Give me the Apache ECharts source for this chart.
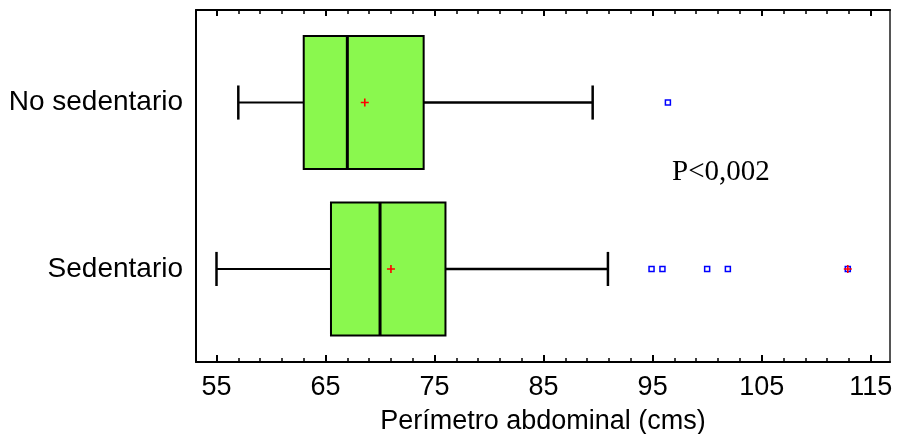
<!DOCTYPE html>
<html>
<head>
<meta charset="utf-8">
<script src="https://cdn.jsdelivr.net/npm/echarts@6/dist/echarts.min.js"></script>
<style>
  html, body { margin: 0; padding: 0; background: #fff; }
  #chart { width: 898px; height: 434px; }
</style>
</head>
<body>
<div id="chart"></div>
<script>
// grupos y estadisticos
const categories = ['No sedentario', 'Sedentario'];
const whiskerLow = [57, 55];
const q1 = [63, 65.5];
const median = [67, 70];
const q3 = [74, 76];
const whiskerHigh = [89.5, 90.9];
const means = [68.6, 71];
// [valor, grupo]
const outliers = [[96.4, 0], [94.9, 1], [95.9, 1], [100, 1], [101.9, 1], [112.9, 1]];
const farOutliers = [[112.9, 1]];
const majorTicks = [55, 65, 75, 85, 95, 105, 115];
const minorTicks = [];
for (let t = 57; t < 115; t += 2) { if ((t - 55) % 10 !== 0) minorTicks.push(t); }

const XMIN = 53.12, XMAX = 116.77;
const YMIN = -0.556, YMAX = 1.559;

const boxData = categories.map(function (c, i) {
  return [i, whiskerLow[i], q1[i], median[i], q3[i], whiskerHigh[i]];
});
const meanData = means.map(function (m, i) { return [m, i]; });

const plus = 'path://M3.2,0H4.8V3.2H8V4.8H4.8V8H3.2V4.8H0V3.2H3.2Z';

function renderBox(params, api) {
  const y = api.value(0);
  const pMin = api.coord([api.value(1), y]);
  const pQ1 = api.coord([api.value(2), y]);
  const pMed = api.coord([api.value(3), y]);
  const pQ3 = api.coord([api.value(4), y]);
  const pMax = api.coord([api.value(5), y]);
  const h = api.size([0, 0.8])[1];
  const cap = api.size([0, 0.205])[1];
  const cy = pMed[1];
  return {
    type: 'group',
    children: [
      { type: 'line', shape: { x1: pMin[0], y1: cy, x2: pQ1[0], y2: cy }, style: { stroke: '#000', lineWidth: 2 } },
      { type: 'line', shape: { x1: pMin[0], y1: cy - cap / 2, x2: pMin[0], y2: cy + cap / 2 }, style: { stroke: '#000', lineWidth: 2.5 } },
      { type: 'line', shape: { x1: pQ3[0], y1: cy, x2: pMax[0], y2: cy }, style: { stroke: '#000', lineWidth: 2.5 } },
      { type: 'line', shape: { x1: pMax[0], y1: cy - cap / 2, x2: pMax[0], y2: cy + cap / 2 }, style: { stroke: '#000', lineWidth: 2.5 } },
      { type: 'rect', shape: { x: pQ1[0], y: cy - h / 2, width: pQ3[0] - pQ1[0], height: h }, style: { fill: '#8af84e', stroke: '#000', lineWidth: 2 } },
      { type: 'line', shape: { x1: pMed[0], y1: cy - h / 2, x2: pMed[0], y2: cy + h / 2 }, style: { stroke: '#000', lineWidth: 3 } }
    ]
  };
}

const chart = echarts.init(document.getElementById('chart'));
const font = 'Liberation Sans, Arial, sans-serif';

const option = {
  animation: false,
  backgroundColor: '#fff',
  grid: { left: 196, right: 8, top: 10, bottom: 72, containLabel: false, outerBoundsMode: 'none' },
  xAxis: [
    {
      type: 'value', position: 'bottom', min: XMIN, max: XMAX,
      axisLine: { show: true, onZero: false, lineStyle: { color: '#000', width: 2 } },
      axisTick: { show: true, inside: true, length: 7, customValues: majorTicks, lineStyle: { color: '#000', width: 2 } },
      axisLabel: { customValues: majorTicks, color: '#000', fontSize: 27, fontFamily: font, margin: 12 },
      splitLine: { show: false },
      name: 'Perímetro abdominal (cms)', nameLocation: 'middle', nameGap: 46,
      nameTextStyle: { color: '#000', fontSize: 27, fontFamily: font }
    },
    {
      type: 'value', position: 'bottom', min: XMIN, max: XMAX,
      axisLine: { show: false, onZero: false },
      axisTick: { show: true, inside: true, length: 4, customValues: minorTicks, lineStyle: { color: '#000', width: 1.5 } },
      axisLabel: { show: false }, splitLine: { show: false }
    },
    {
      type: 'value', position: 'top', min: XMIN, max: XMAX,
      axisLine: { show: true, onZero: false, lineStyle: { color: '#000', width: 2 } },
      axisTick: { show: true, inside: true, length: 6, customValues: majorTicks, lineStyle: { color: '#000', width: 2 } },
      axisLabel: { show: false }, splitLine: { show: false }
    },
    {
      type: 'value', position: 'top', min: XMIN, max: XMAX,
      axisLine: { show: false, onZero: false },
      axisTick: { show: true, inside: true, length: 4, customValues: minorTicks, lineStyle: { color: '#000', width: 1.5 } },
      axisLabel: { show: false }, splitLine: { show: false }
    }
  ],
  yAxis: [
    {
      type: 'value', position: 'left', inverse: true, min: YMIN, max: YMAX,
      axisLine: { show: true, onZero: false, lineStyle: { color: '#000', width: 2 } },
      axisTick: { show: false },
      axisLabel: {
        customValues: [0, 1], color: '#000', fontSize: 28, fontFamily: font, margin: 13,
        formatter: function (v) { return categories[Math.round(v)]; }
      },
      splitLine: { show: false }
    },
    {
      type: 'value', position: 'right', inverse: true, min: YMIN, max: YMAX,
      axisLine: { show: true, onZero: false, lineStyle: { color: '#555', width: 2 } },
      axisTick: { show: false }, axisLabel: { show: false }, splitLine: { show: false }
    }
  ],
  series: [
    {
      type: 'custom', xAxisIndex: 0, yAxisIndex: 0,
      renderItem: renderBox,
      encode: { x: [1, 2, 3, 4, 5], y: 0 },
      data: boxData, z: 2
    },
    {
      type: 'scatter', xAxisIndex: 0, yAxisIndex: 0,
      symbol: 'rect', symbolSize: 5,
      itemStyle: { color: '#fff', borderColor: '#0000ff', borderWidth: 1.5, opacity: 1 },
      data: outliers, z: 3
    },
    {
      type: 'scatter', xAxisIndex: 0, yAxisIndex: 0,
      symbol: plus, symbolSize: 8,
      itemStyle: { color: '#ff0000', opacity: 1 },
      data: meanData.concat(farOutliers), z: 4
    }
  ],
  graphic: [
    {
      type: 'text', left: 672, top: 158,
      style: { text: 'P<0,002', fill: '#000', fontSize: 29, fontFamily: 'Liberation Serif, Times New Roman, serif' }
    }
  ]
};
chart.setOption(option);
</script>
</body>
</html>
